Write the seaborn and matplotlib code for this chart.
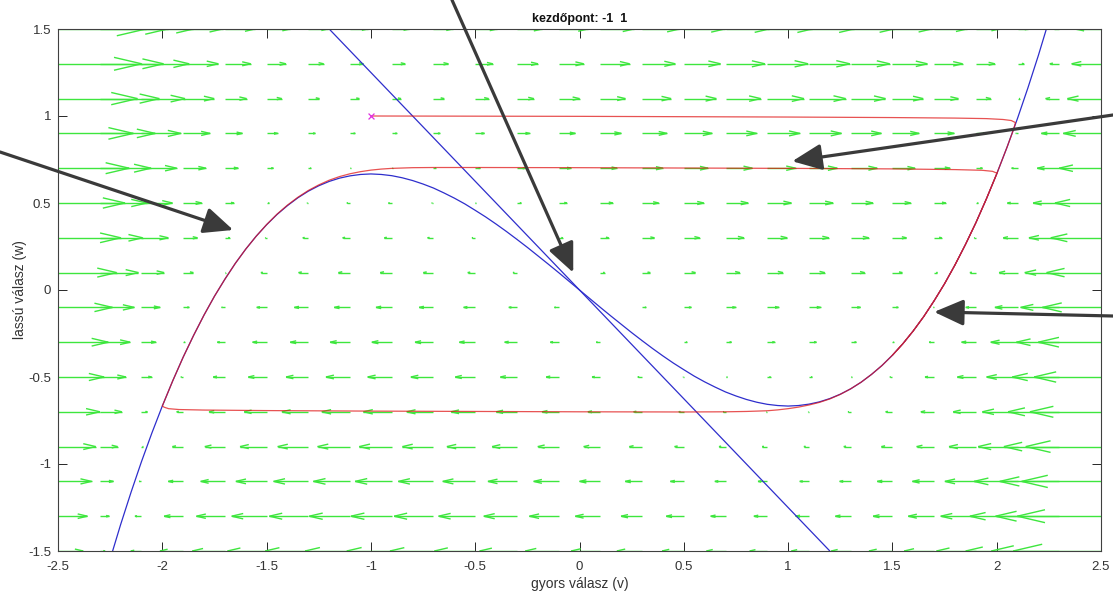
import numpy as np
import matplotlib
matplotlib.use('Agg')
import matplotlib.pyplot as plt
from matplotlib.collections import LineCollection
import seaborn as sns

# cubic nullcline (blue) at v = -2.5 ... 2.5, step 0.05
cubic_v = np.round(np.arange(-2.5, 2.501, 0.05), 2)
cubic_w = [-2.708, -2.452, -2.208, -1.976, -1.756, -1.547, -1.349, -1.163, -0.987, -0.822,
           -0.667, -0.522, -0.386, -0.261, -0.144, -0.036, 0.062, 0.153, 0.235, 0.309,
           0.375, 0.434, 0.485, 0.530, 0.568, 0.599, 0.624, 0.643, 0.656, 0.664,
           0.667, 0.664, 0.657, 0.645, 0.629, 0.609, 0.586, 0.558, 0.528, 0.495,
           0.458, 0.420, 0.379, 0.336, 0.291, 0.245, 0.197, 0.149, 0.100, 0.050,
           0.000,
           -0.050, -0.100, -0.149, -0.197, -0.245, -0.291, -0.336, -0.379, -0.420, -0.458,
           -0.495, -0.528, -0.558, -0.586, -0.609, -0.629, -0.645, -0.657, -0.664, -0.667,
           -0.664, -0.656, -0.643, -0.624, -0.599, -0.568, -0.530, -0.485, -0.434, -0.375,
           -0.309, -0.235, -0.153, -0.062, 0.036, 0.144, 0.261, 0.386, 0.522, 0.667,
           0.822, 0.987, 1.163, 1.349, 1.547, 1.756, 1.976, 2.208, 2.452, 2.708]

# linear nullcline (blue straight line)
line_v = [-1.2, 1.2]
line_w = [1.5, -1.5]

# trajectory (red), starting point -1, 1
traj_v = [-1.00, -0.50, 0.00, 0.50, 1.00, 1.50, 1.80, 1.95, 2.03, 2.07, 2.09,
          2.08, 2.05, 2.00, 1.95, 1.90, 1.85, 1.80, 1.75, 1.70, 1.65, 1.60, 1.55, 1.50,
          1.45, 1.40, 1.35, 1.30, 1.25, 1.20, 1.15, 1.10, 1.05, 1.00, 0.95, 0.90, 0.80, 0.70,
          0.50, 0.00, -0.50, -1.00, -1.50, -1.80, -1.92, -1.97, -1.99, -2.00,
          -1.95, -1.90, -1.85, -1.80, -1.75, -1.70, -1.65, -1.60, -1.55, -1.50, -1.45, -1.40,
          -1.35, -1.30, -1.25, -1.20, -1.15, -1.10, -1.05, -1.00, -0.95, -0.90, -0.80, -0.70,
          -0.50, 0.00, 0.50, 1.00, 1.50, 1.80, 1.93, 1.98, 2.00,
          2.00, 1.95, 1.90, 1.85, 1.80, 1.75, 1.70, 1.65, 1.60, 1.55, 1.50]
traj_w = [1.000, 0.999, 0.998, 0.996, 0.994, 0.991, 0.988, 0.985, 0.980, 0.974, 0.962,
          0.920, 0.822, 0.667, 0.522, 0.386, 0.261, 0.144, 0.036, -0.062, -0.153, -0.235, -0.309, -0.375,
          -0.434, -0.485, -0.530, -0.568, -0.600, -0.626, -0.646, -0.661, -0.673, -0.682, -0.689, -0.694, -0.698, -0.700,
          -0.701, -0.700, -0.698, -0.696, -0.693, -0.690, -0.687, -0.682, -0.674, -0.667,
          -0.522, -0.386, -0.261, -0.144, -0.036, 0.062, 0.153, 0.235, 0.309, 0.376, 0.436, 0.488,
          0.533, 0.572, 0.604, 0.631, 0.652, 0.668, 0.680, 0.689, 0.695, 0.699, 0.703, 0.704,
          0.704, 0.703, 0.701, 0.699, 0.696, 0.692, 0.688, 0.682, 0.672,
          0.667, 0.522, 0.386, 0.261, 0.144, 0.036, -0.062, -0.153, -0.235, -0.309, -0.375]
start_v = [-1.0]
start_w = [1.0]

# direction field: columns every 0.2 (every 4th nullcline sample), rows every 0.2
field_v = cubic_v[::4]
field_nc = np.array(cubic_w)[::4]
field_w = np.round(np.arange(-1.5, 1.51, 0.2), 2)

x_ticks = [-2.5, -2, -1.5, -1, -0.5, 0, 0.5, 1, 1.5, 2, 2.5]
x_tick_labels = ['-2.5', '-2', '-1.5', '-1', '-0.5', '0', '0.5', '1', '1.5', '2', '2.5']
y_ticks = [-1.5, -1, -0.5, 0, 0.5, 1, 1.5]
y_tick_labels = ['-1.5', '-1', '-0.5', '0', '0.5', '1', '1.5']

sns.set_theme(style='ticks')
plt.rcParams['font.family'] = ['Liberation Sans', 'DejaVu Sans']

W, H = 1113, 594
fig = plt.figure(figsize=(W / 100, H / 100), dpi=100)
ax = fig.add_axes([58 / W, 1 - 551 / H, (1101 - 58) / W, (551 - 29) / H])

# quiver-like arrows with open heads (head size grows with arrow length)
scale, alpha, beta = 0.1, 0.33, 0.28
segs = []
for w in field_w:
    for v, nc in zip(field_v, field_nc):
        u = scale * (w - nc)
        tip = (v + u, w)
        segs.append([(v, w), tip])
        segs.append([(v + u - alpha * u, w + alpha * beta * u), tip])
        segs.append([(v + u - alpha * u, w - alpha * beta * u), tip])
ax.add_collection(LineCollection(segs, colors='#3ee63e', linewidths=1.0, zorder=1))

sns.lineplot(x=cubic_v, y=cubic_w, sort=False, estimator=None, color='#2e2ecc',
             linewidth=0.9, ax=ax, zorder=2)
sns.lineplot(x=line_v, y=line_w, sort=False, estimator=None, color='#2e2ecc',
             linewidth=0.9, ax=ax, zorder=2)
sns.lineplot(x=traj_v, y=traj_w, sort=False, estimator=None, color='#e01818',
             linewidth=0.9, alpha=0.75, ax=ax, zorder=3)
ax.scatter(start_v, start_w, marker='x', color='#e030e0', s=18, linewidths=0.9, zorder=4)

ax.set_xlim(-2.5, 2.5)
ax.set_ylim(-1.5, 1.5)
ax.set_xticks(x_ticks)
ax.set_xticklabels(x_tick_labels)
ax.set_yticks(y_ticks)
ax.set_yticklabels(y_tick_labels)
ax.tick_params(direction='in', length=6.5, width=0.7, colors='#262626', labelsize=9.5,
               top=True, right=True)
ax.tick_params(axis='x', labelcolor='#333333', pad=7)
ax.tick_params(axis='y', labelcolor='#333333', pad=5)
for sp in ax.spines.values():
    sp.set_color('#404040')
    sp.set_linewidth(0.8)

ax.set_title('kezdőpont: -1  1', fontsize=9, fontweight='bold', pad=5, color='#111111')
ax.set_xlabel('gyors válasz (v)', fontsize=10, labelpad=3, color='#333333')
ax.set_ylabel('lassú válasz (w)', fontsize=10, labelpad=1, color='#333333')

# pointer arrows
pointers = [((-0.03, 0.10), (452 / W, 1.0)),
            ((-1.66, 0.345), (0.0, 1 - 152 / H)),
            ((1.02, 0.74), (1.0, 1 - 115 / H)),
            ((1.70, -0.126), (1.0, 1 - 316 / H))]
for tip, tail in pointers:
    ax.annotate('', xy=tip, xycoords='data', xytext=tail, textcoords='figure fraction',
                arrowprops=dict(arrowstyle='-|>,head_length=0.9,head_width=0.4',
                                color='#3a3a3a', lw=2.3, shrinkA=0, shrinkB=0,
                                mutation_scale=20),
                annotation_clip=False, zorder=6)

fig.savefig('out.png', dpi=100)
